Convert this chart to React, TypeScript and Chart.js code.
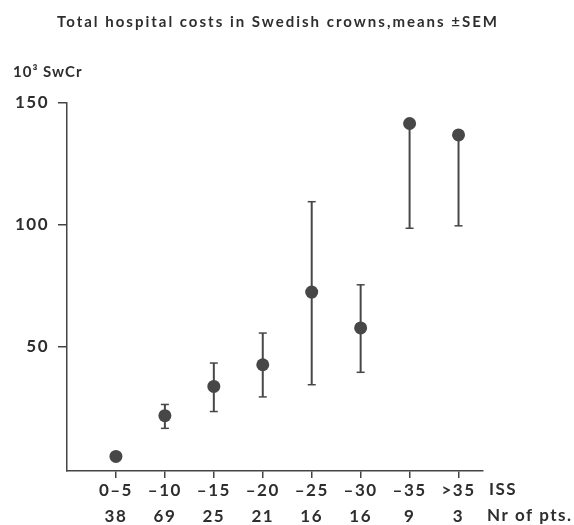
import { useEffect, useRef } from 'react';
import { Chart, registerables } from 'chart.js';

Chart.register(...registerables);

const categories = ['0–5', '–10', '–15', '–20', '–25', '–30', '–35', '>35'];
const patientCounts = ['38', '69', '25', '21', '16', '16', '9', '3'];
const meanCost = [5, 21.7, 33.7, 42.6, 72.4, 57.7, 141.6, 136.9];
const semUpper: (number | null)[] = [null, 26.3, 43.3, 55.6, 109.5, 75.4, null, null];
const semLower: (number | null)[] = [null, 16.5, 23.4, 29.4, 34.4, 39.5, 98.6, 99.6];
const yTickValues = [50, 100, 150];
const titleText = 'Total hospital costs in Swedish crowns,means ±SEM';
const yUnitLabel = '10³ SwCr';
const xRowLabels = ['ISS', 'Nr of pts.'];

const INK = '#2e2e2e';
const MARK = '#474747';
const FONT = 'Lato, "DejaVu Sans", sans-serif';

const spacingPlugin = {
  id: 'letterSpacing',
  beforeDraw(chart: any) {
    (chart.ctx as any).letterSpacing = '1.5px';
  },
};

const errorBarsPlugin = {
  id: 'errorBars',
  beforeDatasetsDraw(chart: any) {
    const { ctx, scales } = chart;
    const x = scales.x;
    const y = scales.y;
    ctx.save();
    ctx.strokeStyle = MARK;
    meanCost.forEach((m, i) => {
      const px = x.getPixelForValue(i);
      const hi = semUpper[i];
      const lo = semLower[i];
      const top = y.getPixelForValue(hi != null ? hi : m);
      const bot = y.getPixelForValue(lo != null ? lo : m);
      ctx.lineWidth = 2;
      ctx.beginPath();
      ctx.moveTo(px, top);
      ctx.lineTo(px, bot);
      ctx.stroke();
      ctx.lineWidth = 1.5;
      if (hi != null) {
        ctx.beginPath();
        ctx.moveTo(px - 4, top);
        ctx.lineTo(px + 4, top);
        ctx.stroke();
      }
      if (lo != null) {
        ctx.beginPath();
        ctx.moveTo(px - 4, bot);
        ctx.lineTo(px + 4, bot);
        ctx.stroke();
      }
    });
    ctx.restore();
  },
};

const textPlugin = {
  id: 'extraText',
  afterDraw(chart: any) {
    const { ctx, chartArea } = chart;
    ctx.save();
    ctx.fillStyle = INK;
    ctx.textBaseline = 'middle';
    ctx.textAlign = 'left';
    // title
    ctx.font = `bold 15px ${FONT}`;
    (ctx as any).letterSpacing = '0px';
    const w = ctx.measureText(titleText).width;
    const spacing = (440 - w) / (titleText.length - 1);
    (ctx as any).letterSpacing = `${spacing}px`;
    ctx.fillText(titleText, 57, 22);
    // unit label
    (ctx as any).letterSpacing = '1px';
    ctx.font = `bold 15px ${FONT}`;
    ctx.fillText(yUnitLabel, 13, chartArea.top - 31);
    // row labels
    (ctx as any).letterSpacing = '1.5px';
    ctx.font = `bold 17px ${FONT}`;
    ctx.fillText(xRowLabels[0], chartArea.right + 6, chartArea.bottom + 19);
    ctx.fillText(xRowLabels[1], chartArea.right + 4, chartArea.bottom + 44.5);
    ctx.restore();
    (ctx as any).letterSpacing = '0px';
  },
};

export default function App() {
  const canvasRef = useRef<HTMLCanvasElement | null>(null);

  useEffect(() => {
    const canvas = canvasRef.current;
    if (!canvas) return;
    const chart = new Chart(canvas, {
      type: 'scatter',
      data: {
        datasets: [
          {
            data: meanCost.map((v, i) => ({ x: i, y: v })),
            pointRadius: 6.5,
            pointHoverRadius: 6.5,
            backgroundColor: MARK,
            borderWidth: 0,
          },
        ],
      },
      options: {
        animation: false,
        responsive: false,
        events: [],
        layout: { padding: { top: 103, right: 91, bottom: 0, left: 0 } },
        plugins: {
          legend: { display: false },
          tooltip: { enabled: false },
          title: { display: false },
        },
        scales: {
          x: {
            type: 'linear',
            min: -1,
            max: 7.5,
            afterBuildTicks(scale: any) {
              scale.ticks = categories.map((_, i) => ({ value: i }));
            },
            afterFit(scale: any) {
              scale.height = 54;
            },
            ticks: {
              autoSkip: false,
              maxRotation: 0,
              padding: 0,
              color: INK,
              font: { family: FONT, size: 17, weight: 'bold', lineHeight: 1.5 },
              callback: (v: any) => {
                const i = Math.round(Number(v));
                return [categories[i], patientCounts[i]];
              },
            },
            grid: {
              drawOnChartArea: false,
              drawTicks: true,
              tickLength: 7,
              color: '#444',
              lineWidth: 1.5,
            },
            border: { display: true, color: '#444', width: 1.5 },
          },
          y: {
            type: 'linear',
            min: -1,
            max: 150,
            afterBuildTicks(scale: any) {
              scale.ticks = yTickValues.map((v) => ({ value: v }));
            },
            afterFit(scale: any) {
              scale.width = 67;
            },
            ticks: {
              padding: 9,
              color: INK,
              font: { family: FONT, size: 17, weight: 'bold' },
              callback: (v: any) => String(v),
            },
            grid: {
              drawOnChartArea: false,
              drawTicks: true,
              tickLength: 9,
              color: '#444',
              lineWidth: 1.5,
            },
            border: { display: true, color: '#444', width: 1.5 },
          },
        },
      },
      plugins: [spacingPlugin, errorBarsPlugin, textPlugin],
    });
    return () => chart.destroy();
  }, []);

  return (
    <div style={{ position: 'absolute', left: 0, top: 0, width: 574, height: 525, background: '#fff' }}>
      <canvas ref={canvasRef} width={574} height={525} style={{ display: 'block' }} />
    </div>
  );
}
